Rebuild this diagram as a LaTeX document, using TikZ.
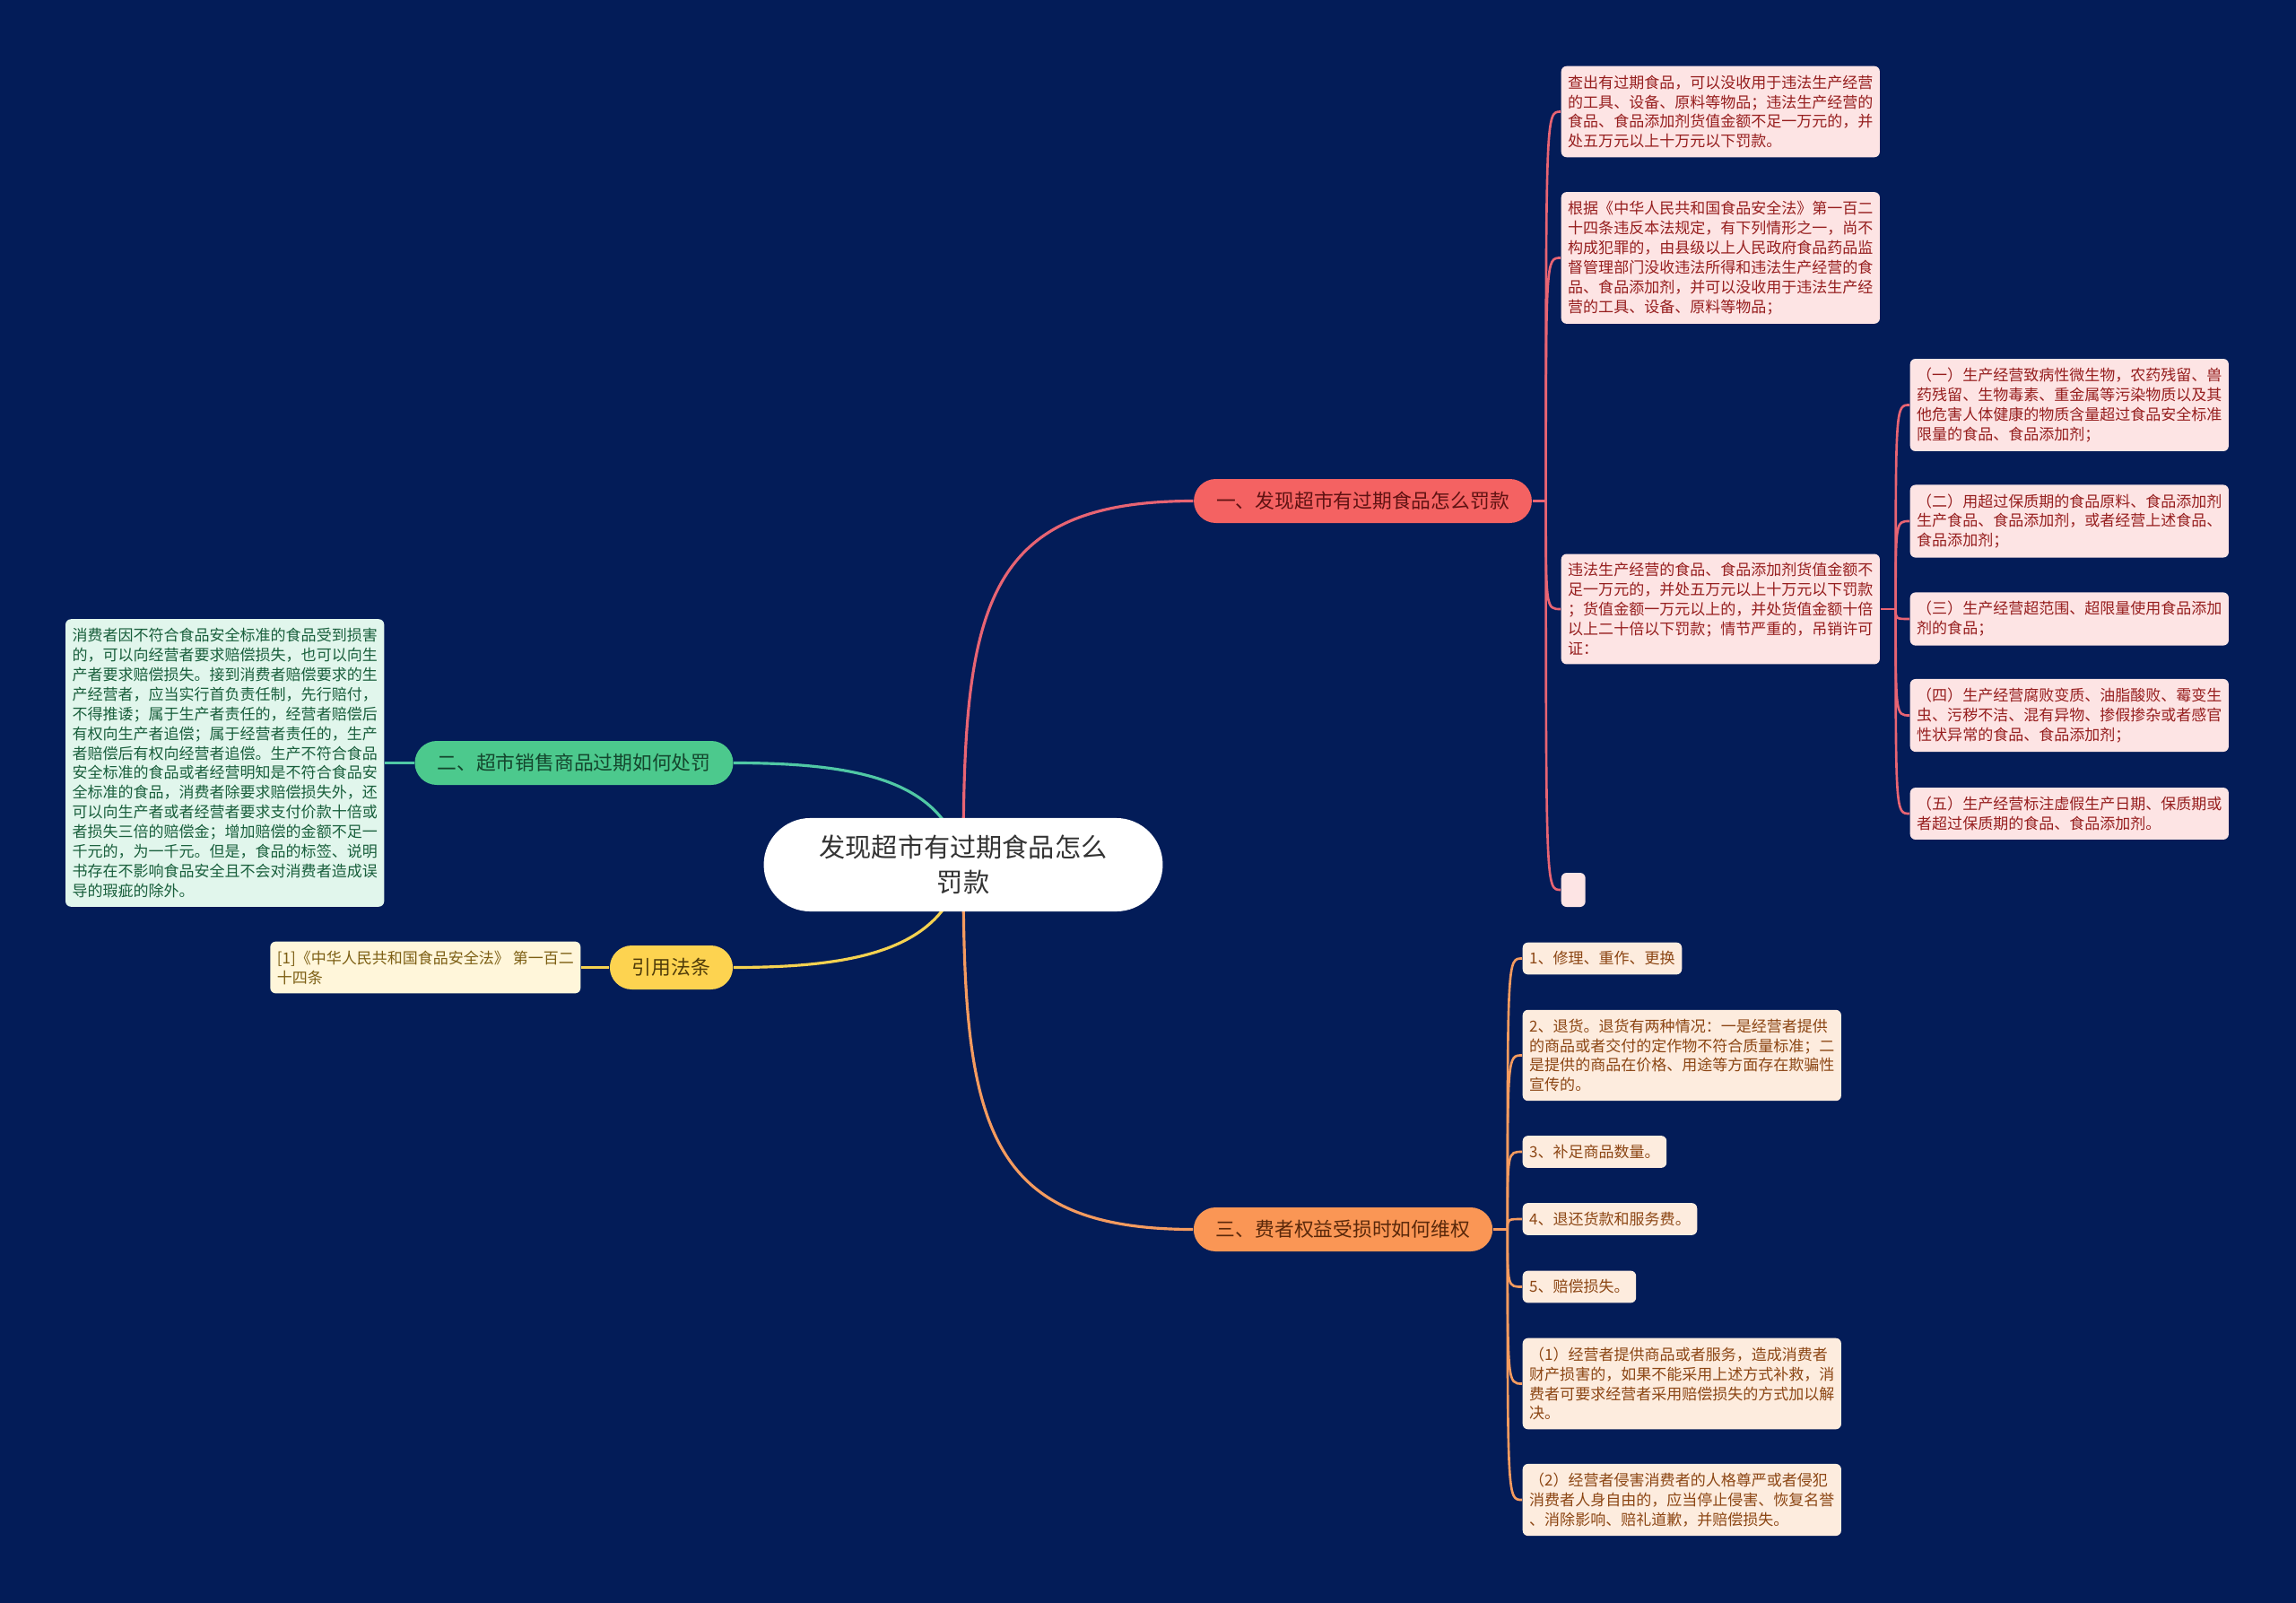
\documentclass[tikz,border=0pt]{standalone}
\usepackage{fontspec}
\newfontfamily\cjk{Noto Sans CJK SC}
\definecolor{navy}{RGB}{3,28,88}
\definecolor{redbr}{RGB}{244,98,98}
\definecolor{redtx}{RGB}{95,18,18}
\definecolor{redln}{RGB}{232,100,115}
\definecolor{greenbr}{RGB}{76,201,141}
\definecolor{greentx}{RGB}{20,70,45}
\definecolor{greenln}{RGB}{80,200,165}
\definecolor{yellowbr}{RGB}{253,211,80}
\definecolor{yellowtx}{RGB}{80,60,10}
\definecolor{yellowln}{RGB}{245,210,80}
\definecolor{orangebr}{RGB}{250,150,85}
\definecolor{orangetx}{RGB}{90,40,10}
\definecolor{orangeln}{RGB}{245,155,95}
\pgfdeclarelayer{bg}
\pgfdeclarelayer{links}
\pgfsetlayers{bg,links,main}
\begin{document}
\begin{tikzpicture}[
  rootbox/.style={fill=white, rounded corners=0.52cm, align=center, inner xsep=0.62cm, inner ysep=0.19cm, text=black!80, font=\cjk\fontsize{8.3}{11.1}\selectfont},
  branch/.style={rounded corners=0.245cm, minimum height=0.49cm, inner xsep=0.25cm, font=\cjk\fontsize{6.2}{7.4}\selectfont},
  leaf/.style={rounded corners=0.06cm, align=left, inner xsep=0.075cm, inner ysep=0.1cm, anchor=west, font=\cjk\fontsize{4.84}{6.23}\selectfont},
  pinkleaf/.style={fill={rgb,255:red,253;green,228;blue,228}, text={rgb,255:red,150;green,30;blue,30}},
  mintleaf/.style={fill={rgb,255:red,225;green,246;blue,236}, text={rgb,255:red,25;green,95;blue,60}},
  creamleaf/.style={fill={rgb,255:red,255;green,246;blue,218}, text={rgb,255:red,125;green,95;blue,20}},
  peachleaf/.style={fill={rgb,255:red,253;green,236;blue,222}, text={rgb,255:red,140;green,70;blue,20}},
  link/.style={line width=0.9pt},
  twig/.style={line width=0.75pt}]
\useasboundingbox (0,0) rectangle (25.6,-17.87);
\begin{pgfonlayer}{bg}
\fill[navy] (0,0) rectangle (25.6,-17.87);
\end{pgfonlayer}

\node[rootbox] (root) at (10.74,-9.64) {发现超市有过期食品怎么\\罚款};
\node[branch, fill=redbr, text=redtx] (b1) at (15.195,-5.585) {一、发现超市有过期食品怎么罚款};
\node[branch, fill=greenbr, text=greentx] (b2) at (6.40,-8.505) {二、超市销售商品过期如何处罚};
\node[branch, fill=yellowbr, text=yellowtx] (b3) at (7.485,-10.785) {引用法条};
\node[branch, fill=orangebr, text=orangetx] (b4) at (14.975,-13.705) {三、费者权益受损时如何维权};

% first branch
\node[leaf, pinkleaf] (c1a) at (17.40,-1.245) {查出有过期食品，可以没收用于违法生产经营\\的工具、设备、原料等物品；违法生产经营的\\食品、食品添加剂货值金额不足一万元的，并\\处五万元以上十万元以下罚款。};
\node[leaf, pinkleaf] (c1b) at (17.40,-2.875) {根据《中华人民共和国食品安全法》第一百二\\十四条违反本法规定，有下列情形之一，尚不\\构成犯罪的，由县级以上人民政府食品药品监\\督管理部门没收违法所得和违法生产经营的食\\品、食品添加剂，并可以没收用于违法生产经\\营的工具、设备、原料等物品；};
\node[leaf, pinkleaf] (c1c) at (17.40,-6.79) {违法生产经营的食品、食品添加剂货值金额不\\足一万元的，并处五万元以上十万元以下罚款\\；货值金额一万元以上的，并处货值金额十倍\\以上二十倍以下罚款；情节严重的，吊销许可\\证：};
\node[leaf, pinkleaf, minimum width=0.27cm, minimum height=0.38cm, inner sep=0pt] (c1d) at (17.40,-9.92) {};
\foreach \n/\y/\t in {
  g1/4.515/{（一）生产经营致病性微生物，农药残留、兽\\药残留、生物毒素、重金属等污染物质以及其\\他危害人体健康的物质含量超过食品安全标准\\限量的食品、食品添加剂；},
  g2/5.81/{（二）用超过保质期的食品原料、食品添加剂\\生产食品、食品添加剂，或者经营上述食品、\\食品添加剂；},
  g3/6.90/{（三）生产经营超范围、超限量使用食品添加\\剂的食品；},
  g4/7.975/{（四）生产经营腐败变质、油脂酸败、霉变生\\虫、污秽不洁、混有异物、掺假掺杂或者感官\\性状异常的食品、食品添加剂；},
  g5/9.07/{（五）生产经营标注虚假生产日期、保质期或\\者超过保质期的食品、食品添加剂。}}
  \node[leaf, pinkleaf] (\n) at (21.29,-\y) {\t};

% second branch and citation
\node[leaf, mintleaf, anchor=east] (m1) at (4.29,-8.505) {消费者因不符合食品安全标准的食品受到损害\\的，可以向经营者要求赔偿损失，也可以向生\\产者要求赔偿损失。接到消费者赔偿要求的生\\产经营者，应当实行首负责任制，先行赔付，\\不得推诿；属于生产者责任的，经营者赔偿后\\有权向生产者追偿；属于经营者责任的，生产\\者赔偿后有权向经营者追偿。生产不符合食品\\安全标准的食品或者经营明知是不符合食品安\\全标准的食品，消费者除要求赔偿损失外，还\\可以向生产者或者经营者要求支付价款十倍或\\者损失三倍的赔偿金；增加赔偿的金额不足一\\千元的，为一千元。但是，食品的标签、说明\\书存在不影响食品安全且不会对消费者造成误\\导的瑕疵的除外。};
\node[leaf, creamleaf, anchor=east] (y1) at (6.48,-10.785) {[1]《中华人民共和国食品安全法》 第一百二\\十四条};

% third branch
\foreach \n/\y/\t in {
  o1/10.685/{1、修理、重作、更换},
  o2/11.765/{2、退货。退货有两种情况：一是经营者提供\\的商品或者交付的定作物不符合质量标准；二\\是提供的商品在价格、用途等方面存在欺骗性\\宣传的。},
  o3/12.84/{3、补足商品数量。},
  o4/13.59/{4、退还货款和服务费。},
  o5/14.345/{5、赔偿损失。},
  o6/15.425/{（1）经营者提供商品或者服务，造成消费者\\财产损害的，如果不能采用上述方式补救，消\\费者可要求经营者采用赔偿损失的方式加以解\\决。},
  o7/16.72/{（2）经营者侵害消费者的人格尊严或者侵犯\\消费者人身自由的，应当停止侵害、恢复名誉\\、消除影响、赔礼道歉，并赔偿损失。}}
  \node[leaf, peachleaf] (\n) at (16.97,-\y) {\t};

\begin{pgfonlayer}{links}
\draw[link, redln] (root.center) .. controls +(0,2.84) and +(-2.36,0) .. (b1.west);
\draw[link, greenln] (root.center) .. controls +(-0.2,0.9) and +(1.5,0) .. (b2.east);
\draw[link, yellowln] (root.center) .. controls +(-0.2,-0.9) and +(1.5,0) .. (b3.east);
\draw[link, orangeln] (root.center) .. controls +(0,-2.84) and +(-2.36,0) .. (b4.west);
\end{pgfonlayer}

\draw[link, greenln] (b2.west) -- (m1.east);
\draw[link, yellowln] (b3.west) -- (y1.east);
\draw[twig, redln] (b1.east) -- ++(0.15,0) coordinate (t1);
\foreach \c in {c1a,c1b,c1c,c1d} \draw[twig, redln] (t1) .. controls (t1 |- \c.west) .. (\c.west);
\draw[twig, redln] (c1c.east) -- ++(0.17,0) coordinate (t2);
\foreach \c in {g1,g2,g3,g4,g5} \draw[twig, redln] (t2) .. controls (t2 |- \c.west) .. (\c.west);
\draw[twig, orangeln] (b4.east) -- ++(0.16,0) coordinate (t3);
\foreach \c in {o1,o2,o3,o4,o5,o6,o7} \draw[twig, orangeln] (t3) .. controls (t3 |- \c.west) .. (\c.west);
\end{tikzpicture}
\end{document}
